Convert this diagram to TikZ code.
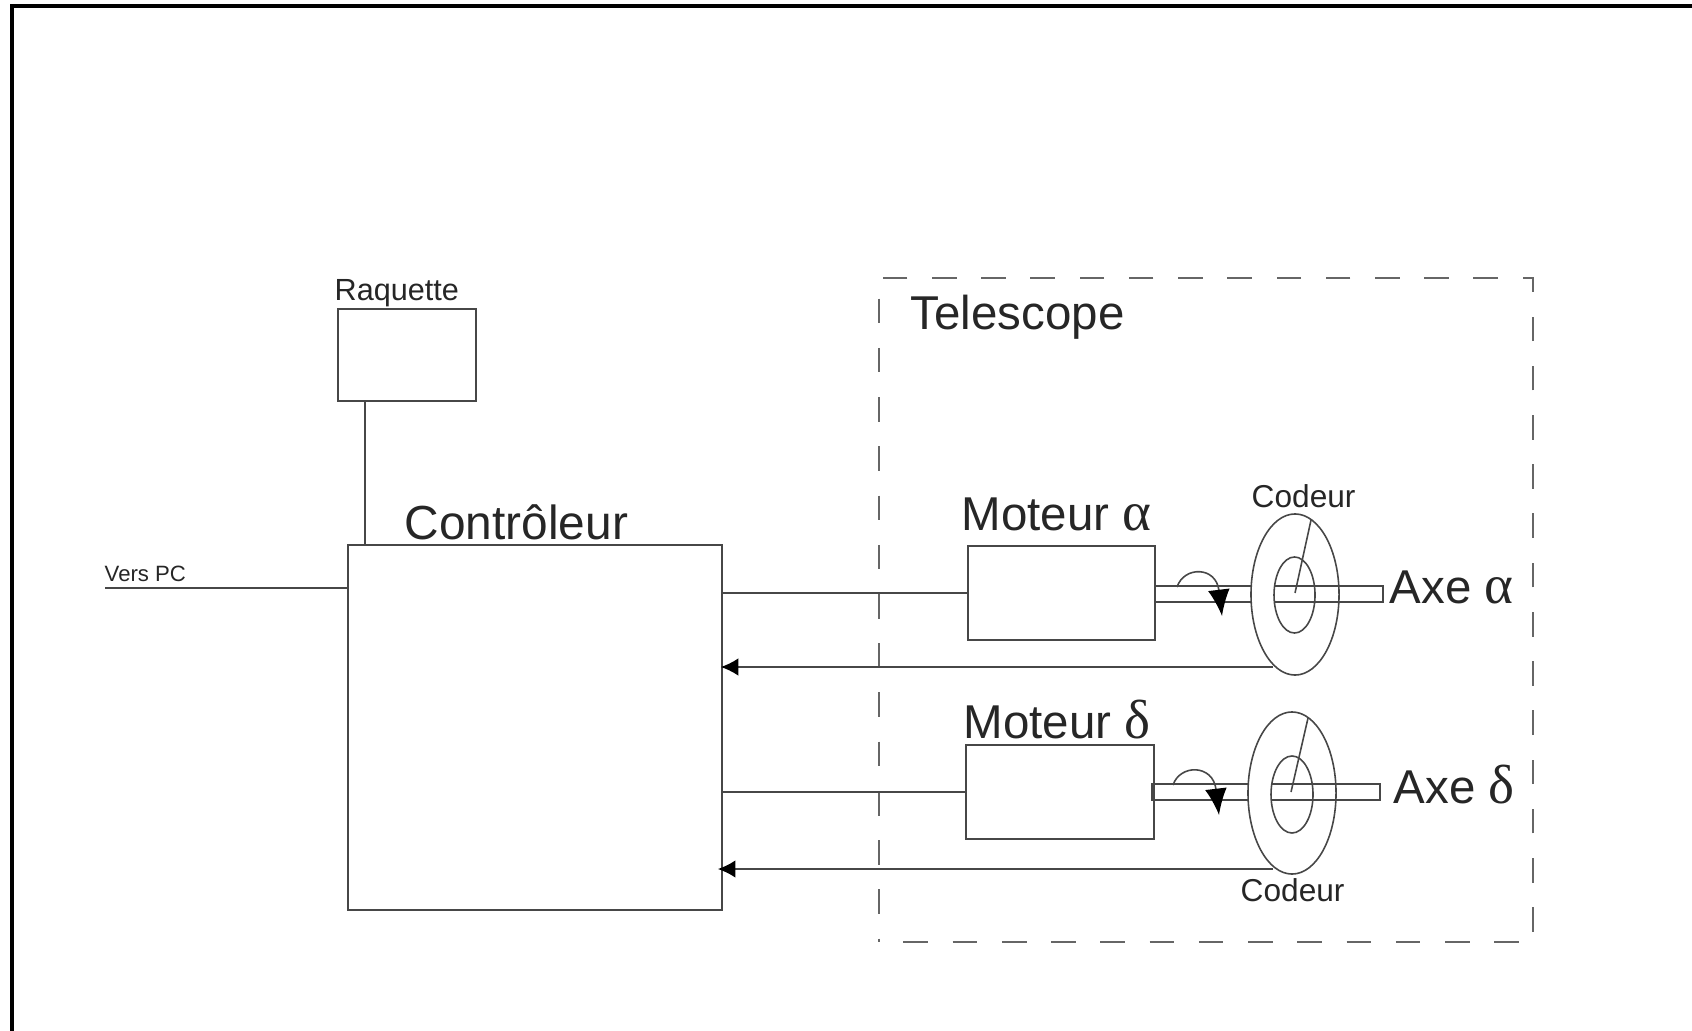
\documentclass[tikz,border=0pt]{standalone}
\usepackage{fontspec}
\setmainfont{Liberation Sans}
\newfontfamily\greekfont[Scale=1.16]{Liberation Serif}
\usepackage{tikz}
\usetikzlibrary{arrows.meta,shapes.geometric}
\tikzset{
    wire/.style={draw=black!72, line width=0.45pt},
    bloc/.style={wire, rectangle, inner sep=0pt},
    disc/.style={wire, ellipse, inner sep=0pt},
    legend/.style={inner sep=0pt, anchor=base west, text=black!85},
    back/.style={wire, shorten >=-0.6pt, -{Latex[black,length=5pt,width=5pt]}},
    turn/.style={wire, -{Latex[black,length=7.5pt,width=6.2pt]}},
}
\begin{document}
\begin{tikzpicture}[x=0.01cm, y=-0.01cm]
    \useasboundingbox (0,0) rectangle (1692,1031);

    % Outer frame
    \draw [black, line width=0.9pt] (12,1031) -- (12,6) -- (1692,6);

    % Define boxes
    \node (raq) [bloc, minimum width=1.38cm, minimum height=0.92cm] at (407,355) {};
    \node (ctrl) [bloc, minimum width=3.74cm, minimum height=3.65cm] at (535,727.5) {};
    \node (tel) [draw=black!60, line width=0.45pt, rectangle, inner sep=0pt, dash pattern=on 7pt off 7pt, dash phase=7pt, minimum width=6.54cm, minimum height=6.64cm] at (1206,610) {};
    \node (motA) [bloc, minimum width=1.87cm, minimum height=0.94cm] at (1061.5,593) {};
    \node (motD) [bloc, minimum width=1.88cm, minimum height=0.94cm] at (1060,792) {};

    % Define coders
    \node (codA) [disc, minimum width=0.88cm, minimum height=1.61cm] at (1295,594.5) {};
    \node (innA) [disc, minimum width=0.41cm, minimum height=0.76cm] at (1294.5,595) {};
    \node (codD) [disc, minimum width=0.88cm, minimum height=1.62cm] at (1292,793) {};
    \node (innD) [disc, minimum width=0.42cm, minimum height=0.77cm] at (1292,794.5) {};

    % Free ends
    \coordinate (pc) at (105,588);
    \coordinate (raqfoot) at (365,401);
    \coordinate (retA) at (1273,667);
    \coordinate (retD) at (1273,869);

    % Texts
    \node [legend, font=\fontsize{8.7pt}{10pt}\selectfont] at (334,301) {Raquette};
    \node [legend, font=\fontsize{6.3pt}{8pt}\selectfont] at (104,581) {Vers PC};
    \node [legend, font=\fontsize{13.6pt}{16pt}\selectfont] at (404,539) {Contrôleur};
    \node [legend, font=\fontsize{13.5pt}{16pt}\selectfont] at (910,330) {Telescope};
    \node [legend, font=\fontsize{13.5pt}{16pt}\selectfont] at (961,531) {Moteur {\greekfont α}};
    \node [legend, font=\fontsize{13.5pt}{16pt}\selectfont] at (963,738) {Moteur {\greekfont δ}};
    \node [legend, font=\fontsize{9pt}{11pt}\selectfont] at (1251,508) {Codeur};
    \node [legend, font=\fontsize{9pt}{11pt}\selectfont] at (1240,901) {Codeur};
    \node [legend, font=\fontsize{13.5pt}{16pt}\selectfont] at (1389,603) {Axe {\greekfont α}};
    \node [legend, font=\fontsize{13.5pt}{16pt}\selectfont] at (1393,803) {Axe {\greekfont δ}};

    % Wires
    \draw [wire] (pc) -- (pc -| ctrl.west);
    \draw [wire] (raqfoot) -- (raqfoot |- ctrl.north);
    \draw [wire] (ctrl.east |- motA.west) -- (motA.west);
    \draw [wire] (ctrl.east |- motD.west) -- (motD.west);
    \draw [back] (retA) -- (retA -| ctrl.east);
    \draw [back] (retD) -- (720,869);

    % Shafts
    \draw [wire] (1155,586) -- (1252,586) (1155,602) -- (1252,602);
    \draw [wire] (1274,586) -- (1383,586) -- (1383,602) -- (1274,602);
    \draw [wire] (1249,784) -- (1152,784) -- (1152,800) -- (1249,800);
    \draw [wire] (1271,784) -- (1380,784) -- (1380,800) -- (1271,800);

    % Radial marks
    \draw [wire] (1295,593) -- (1311,520);
    \draw [wire] (1291,792) -- (1308,718);

    % Rotation arrows
    \draw [turn] (1177,587) .. controls (1184,566) and (1216,566) .. (1222,616);
    \draw [turn] (1173,785) .. controls (1180,764) and (1213,764) .. (1219,815);
\end{tikzpicture}
\end{document}
